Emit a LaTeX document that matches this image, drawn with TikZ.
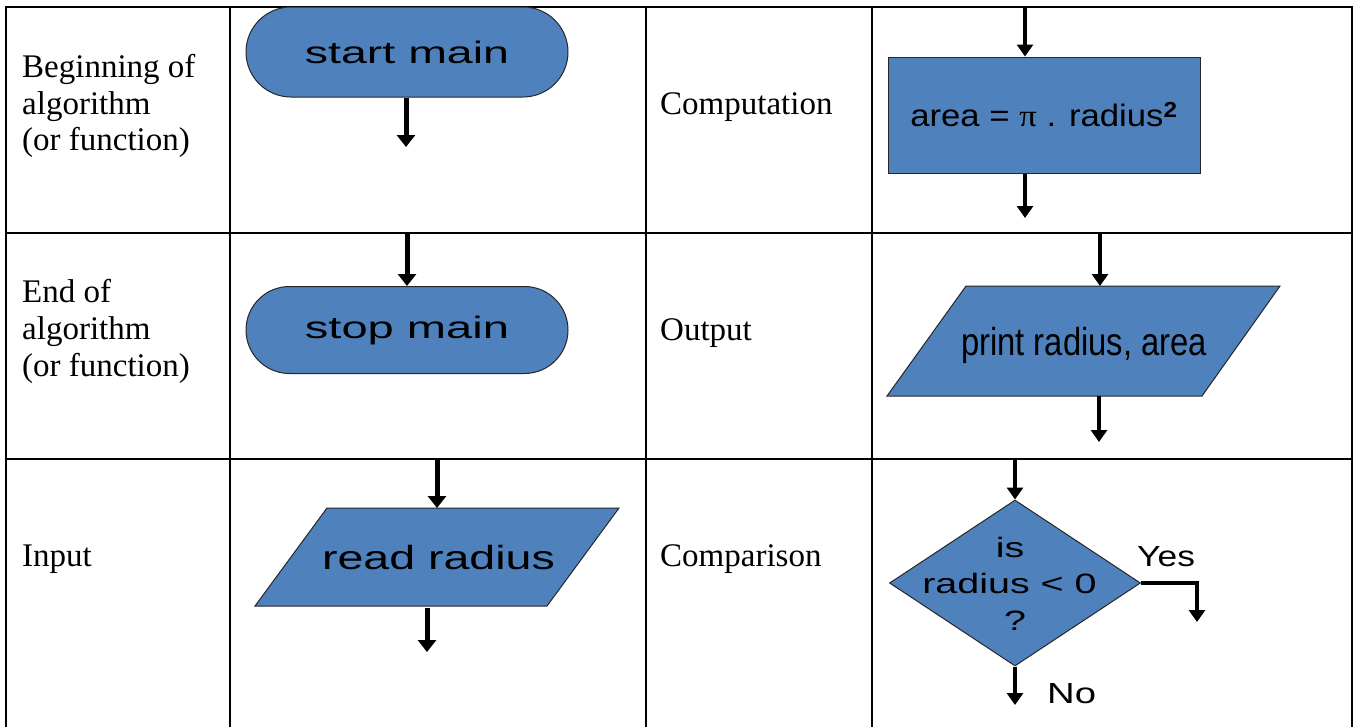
\documentclass[tikz,border=0pt]{standalone}
\usepackage{fontspec}
\setmainfont{Liberation Serif}
\newfontfamily\flowfont{Liberation Sans}
\usepackage{graphicx}
\usetikzlibrary{arrows.meta,shapes.geometric,shapes.misc}
\definecolor{flowblue}{RGB}{79,129,189}
% horizontal stretch of a piece of text
\newcommand{\hstretch}[2]{\scalebox{#1}[1]{#2}}

\begin{document}
\begin{tikzpicture}[x=1pt,y=-1pt,
  gridline/.style={line width=2.2pt, line cap=rect},
  rowlabel/.style={font=\fontsize{33}{37}\selectfont, anchor=base west, inner sep=0},
  symbox/.style={fill=flowblue, draw=black!85, line width=1pt},
  term/.style={symbox, rounded rectangle, minimum width=322pt, minimum height=#1, inner sep=0,
               font=\flowfont\fontsize{31}{37}\selectfont},
  flowtext/.style={inner sep=0, anchor=base, text=black},
  flow/.style={line width=3.8pt, -{Triangle[width=16pt,length=12pt]}},
  heavyflow/.style={line width=5pt, -{Triangle[width=18pt,length=12pt]}}
]
\useasboundingbox (0,0) rectangle (1359,726);

% ---- table grid ----
\draw[gridline] (6,7) -- (1352,7);
\draw[gridline] (6,233) -- (1352,233);
\draw[gridline] (6,459) -- (1352,459);
\foreach \cx in {6,230,646,872,1352}
  \draw[gridline] (\cx,7) -- (\cx,730);

% ---- row labels ----
\node[rowlabel] (begA) at (22,77)  {Beginning of};
\node[rowlabel] (begB) at (22,114) {algorithm};
\node[rowlabel] (begC) at (22,150) {(or function)};
\node[rowlabel] (endA) at (22,302) {End of};
\node[rowlabel] (endB) at (22,339) {algorithm};
\node[rowlabel] (endC) at (22,376) {(or function)};
\node[rowlabel] (inpA) at (22,566) {Input};
\node[rowlabel] (cmpA) at (660,114) {Computation};
\node[rowlabel] (outA) at (660,340) {Output};
\node[rowlabel] (cmrA) at (660,566) {Comparison};

% ---- start terminator ----
\node[term=90pt] (start) at (407,52) {\hstretch{1.5}{start main}};
\coordinate (startout) at (406,147);
\draw[heavyflow] (start.south -| startout) -- (startout);

% ---- stop terminator ----
\node[term=87pt] (stop) at (407,330) {\raisebox{-2pt}{\hstretch{1.52}{stop main}}};
\coordinate (stopin) at (407,233);
\draw[heavyflow] (stopin) -- (stop.north);

% ---- computation box ----
\node[symbox, minimum width=312pt, minimum height=116pt, inner sep=0,
      font=\flowfont\fontsize{31}{37}\selectfont] (calc) at (1044,115)
  {\hstretch{1.12}{area = {\rmfamily\char"03C0} . radius\textsuperscript{\bfseries 2}}};
\coordinate (calcin) at (1025,7);
\coordinate (calcout) at (1025,218);
\draw[flow] (calcin) -- (calcin |- calc.north);
\draw[flow] (calc.south -| calcout) -- (calcout);

% ---- output parallelogram ----
\coordinate (prTL) at (966,286);
\coordinate (prTR) at (1280,286);
\coordinate (prBR) at (1202,396);
\coordinate (prBL) at (887,396);
\path[symbox] (prTL) -- (prTR) -- (prBR) -- (prBL) -- cycle;
\node[flowtext, font=\flowfont\fontsize{39}{44}\selectfont] (prtxt) at (1084,355)
  {\hstretch{0.84}{print radius, area}};
\coordinate (prin) at (1100,233);
\coordinate (prtop) at (1100,286);
\coordinate (prbot) at (1099,396);
\coordinate (prout) at (1099,442);
\draw[flow] (prin) -- (prtop);
\draw[flow] (prbot) -- (prout);

% ---- input parallelogram ----
\coordinate (rdTL) at (327,508);
\coordinate (rdTR) at (619,508);
\coordinate (rdBR) at (547,606);
\coordinate (rdBL) at (255,606);
\path[symbox] (rdTL) -- (rdTR) -- (rdBR) -- (rdBL) -- cycle;
\node[flowtext, font=\flowfont\fontsize{33.5}{40}\selectfont] (rdtxt) at (438.5,569)
  {\hstretch{1.39}{read radius}};
\coordinate (rdin) at (437,459);
\coordinate (rdtop) at (437,508);
\coordinate (rdbot) at (427,608);
\coordinate (rdout) at (427,652);
\draw[heavyflow] (rdin) -- (rdtop);
\draw[heavyflow] (rdbot) -- (rdout);

% ---- decision diamond ----
\node[symbox, diamond, minimum width=251pt, minimum height=166pt, inner sep=0] (dia) at (1015,583) {};
\node[flowtext, font=\flowfont\fontsize{28}{36}\selectfont] (diaA) at (1010,557) {\hstretch{1.41}{is}};
\node[flowtext, font=\flowfont\fontsize{28}{36}\selectfont] (diaB) at (1009.5,593) {\hstretch{1.41}{radius < 0}};
\node[flowtext, font=\flowfont\fontsize{28}{36}\selectfont] (diaC) at (1015,630) {\hstretch{1.41}{?}};
\coordinate (diain) at (1015,459);
\coordinate (yesend) at (1197,622);
\coordinate (noend) at (1015,705);
\draw[flow] (diain) -- (dia.north);
\draw[flow] (dia.east) -- (dia.east -| yesend) -- (yesend);
\draw[flow] (dia.south) -- (noend);
\node[flowtext, anchor=base west, font=\flowfont\fontsize{29}{34}\selectfont] (yes) at (1137,566) {\hstretch{1.22}{Yes}};
\node[flowtext, anchor=base west, font=\flowfont\fontsize{29}{34}\selectfont] (no) at (1047,703) {\hstretch{1.32}{No}};
\end{tikzpicture}
\end{document}
